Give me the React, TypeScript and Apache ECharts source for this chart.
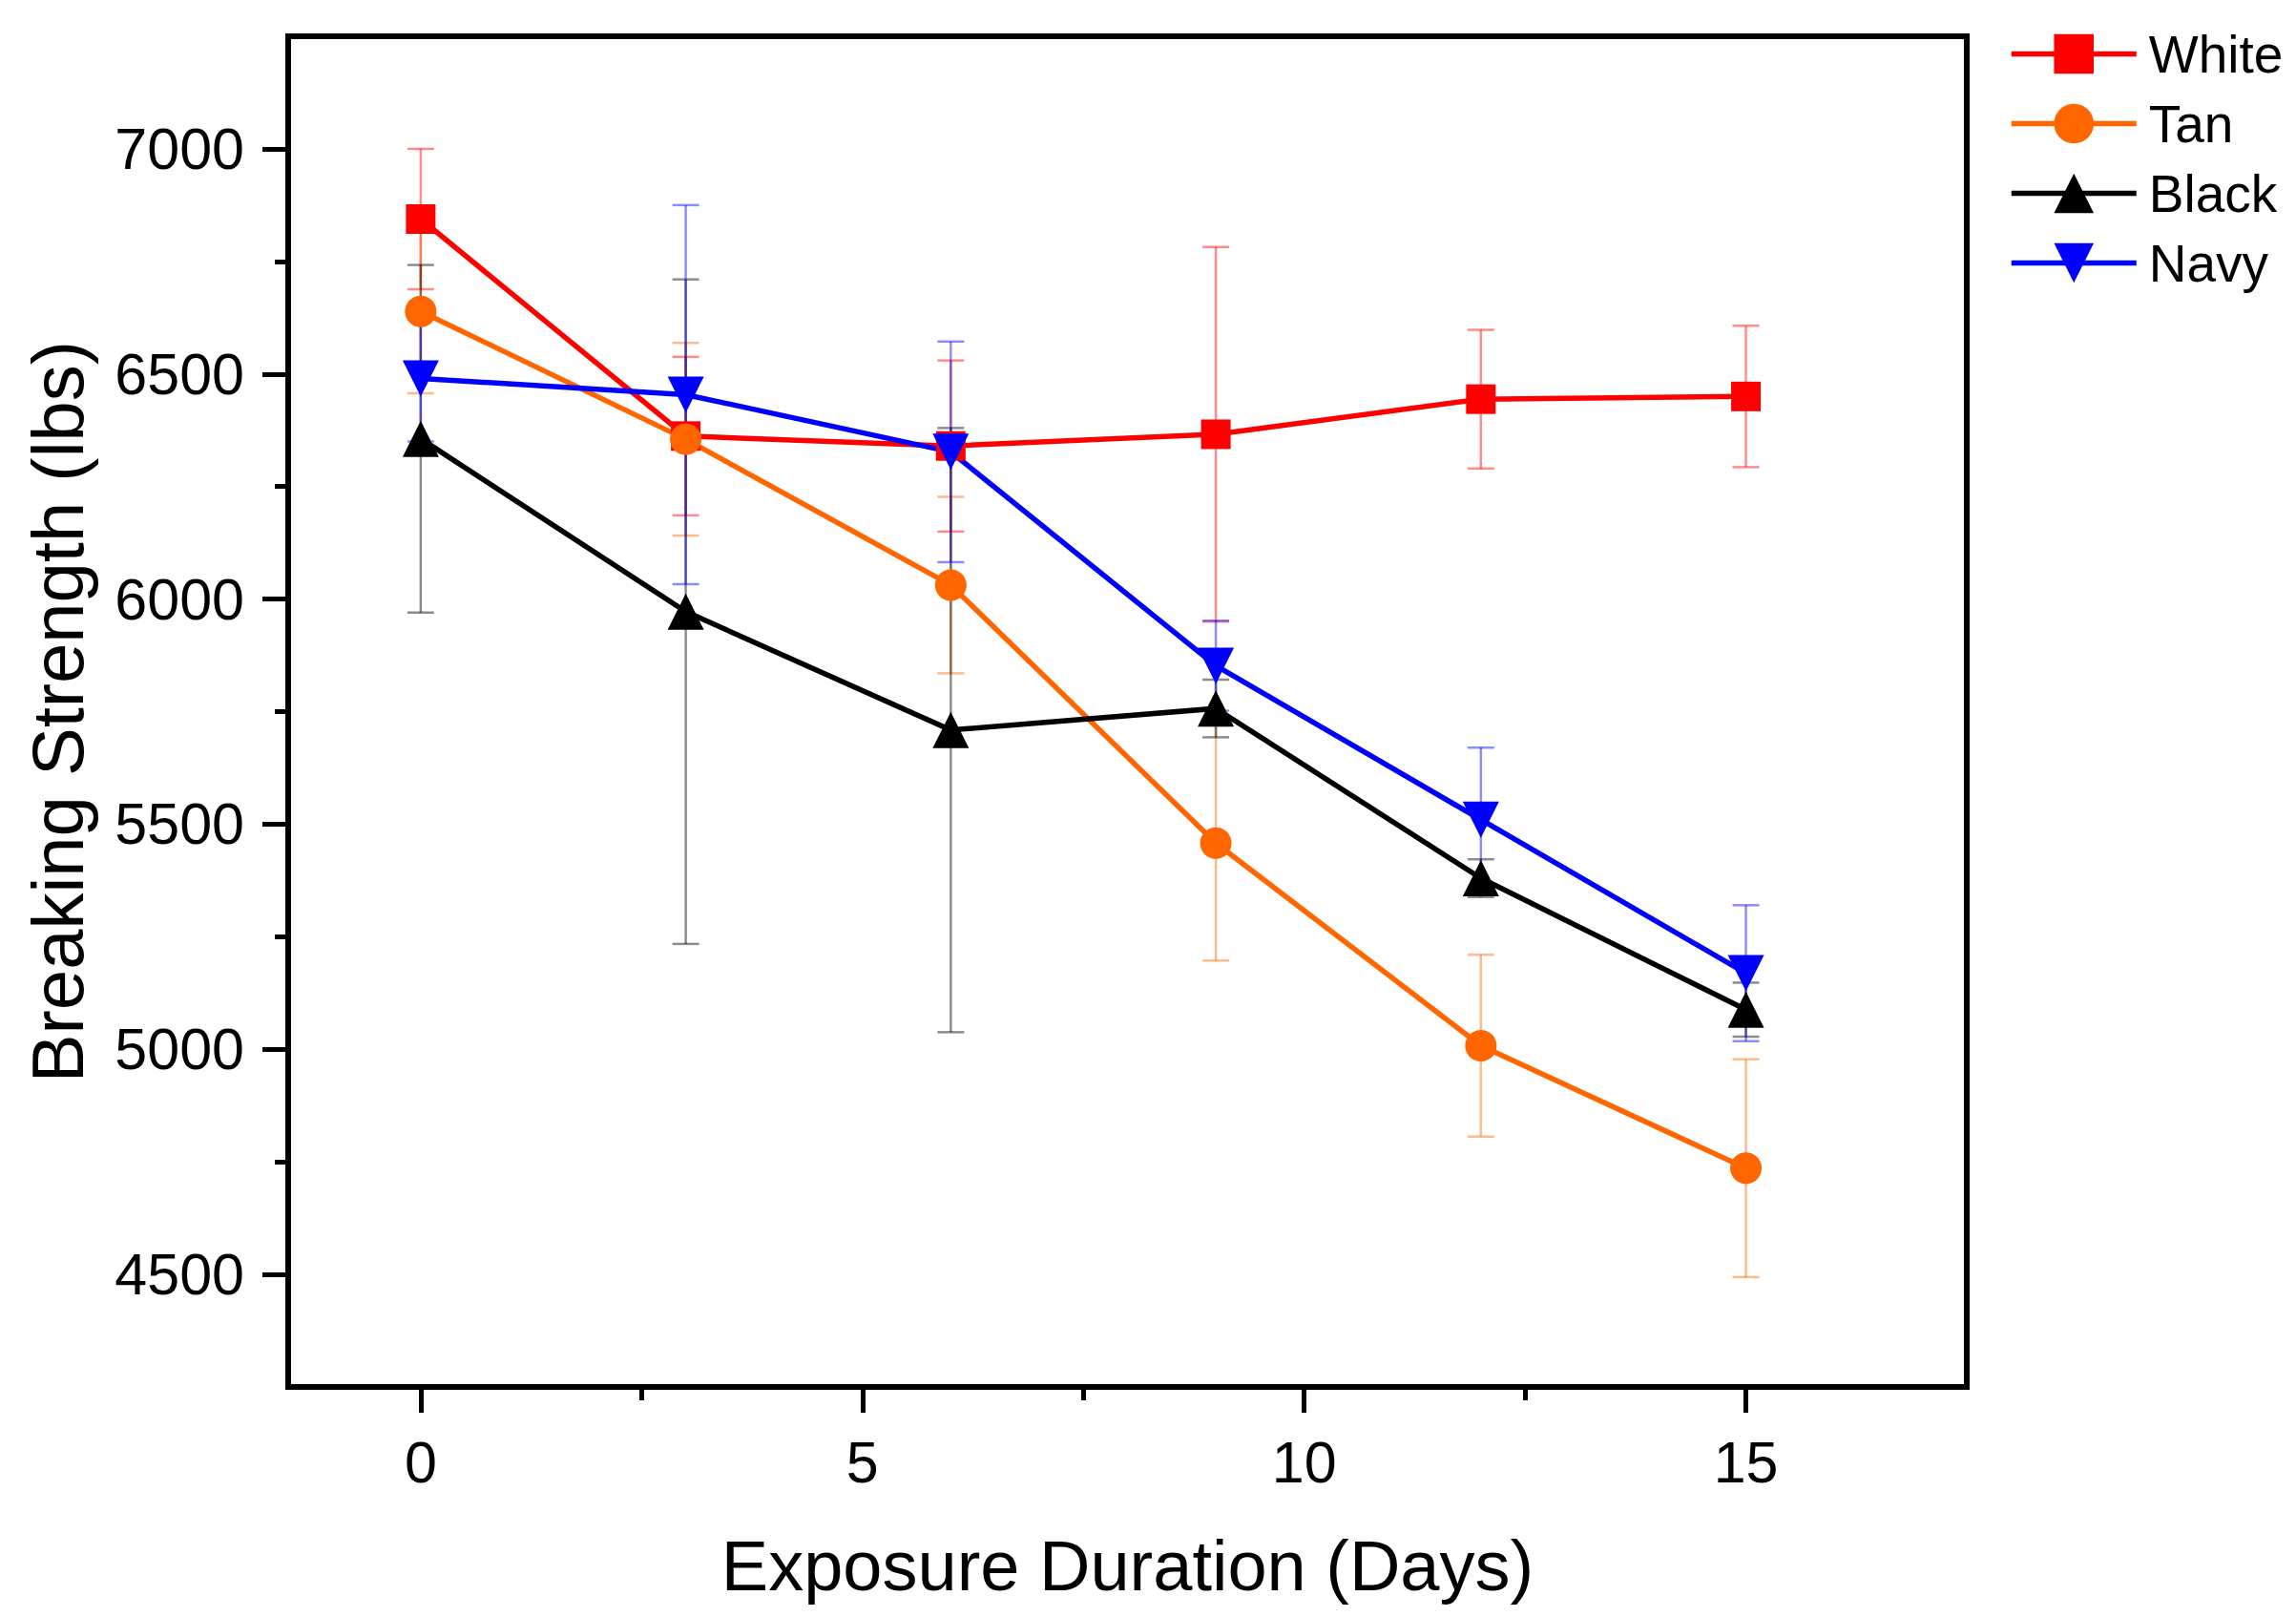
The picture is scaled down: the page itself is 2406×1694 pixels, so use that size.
import React, { useEffect, useRef } from 'react';
import * as echarts from 'echarts';

const days = [0, 3, 6, 9, 12, 15];

const white = [6844, 6362, 6340, 6366, 6444, 6450];
const whiteErr = [156, 176, 190, 416, 154, 157];
const tan = [6639, 6355, 6031, 5458, 5008, 4736];
const tanErr = [182, 214, 196, 261, 202, 242];
const black = [6356, 5972, 5709, 5757, 5380, 5088];
const blackErr = [386, 738, 671, 64, 42, 60];
const navy = [6490, 6454, 6327, 5852, 5510, 5169];
const navyErr = [140, 421, 245, 100, 160, 151];

const xLabels = [0, 5, 10, 15];
const xMinor = [2.5, 7.5, 12.5];
const yLabels = [4500, 5000, 5500, 6000, 6500, 7000];
const yMinor = [4750, 5250, 5750, 6250, 6750];

const FONT = 'Liberation Sans, Arial, sans-serif';

const App: React.FC = () => {
  const chartRef = useRef<HTMLDivElement>(null);

  useEffect(() => {
    const chart = echarts.init(chartRef.current!, undefined, { renderer: 'svg' });

    const groups = [
      { name: 'White', color: '#ff0000', vals: white, errs: whiteErr, symbol: 'rect', rotate: 0, size: 31 },
      { name: 'Tan', color: '#ff6600', vals: tan, errs: tanErr, symbol: 'circle', rotate: 0, size: 33 },
      { name: 'Black', color: '#000000', vals: black, errs: blackErr, symbol: 'triangle', rotate: 0, size: 38 },
      { name: 'Navy', color: '#0000ff', vals: navy, errs: navyErr, symbol: 'triangle', rotate: 180, size: 38 },
    ];

    // error bars: vertical line with caps, drawn under the lines
    const errSeries = groups.map((g) => ({
      type: 'custom',
      name: g.name + ' err',
      z: 1,
      silent: true,
      data: days.map((d, i) => [d, g.vals[i] - g.errs[i], g.vals[i] + g.errs[i]]),
      renderItem: (params: any, api: any) => {
        const lo = api.coord([api.value(0), api.value(1)]);
        const hi = api.coord([api.value(0), api.value(2)]);
        const cap = 14;
        const style = { stroke: g.color, lineWidth: 2.5, opacity: 0.45 };
        return {
          type: 'group',
          children: [
            { type: 'line', shape: { x1: lo[0], y1: lo[1], x2: hi[0], y2: hi[1] }, style },
            { type: 'line', shape: { x1: lo[0] - cap, y1: lo[1], x2: lo[0] + cap, y2: lo[1] }, style },
            { type: 'line', shape: { x1: hi[0] - cap, y1: hi[1], x2: hi[0] + cap, y2: hi[1] }, style },
          ],
        };
      },
    }));

    const lineSeries = groups.map((g) => ({
      type: 'line',
      name: g.name,
      z: 3,
      data: days.map((d, i) => [d, g.vals[i]]),
      symbol: g.symbol,
      symbolSize: g.size,
      symbolRotate: g.rotate,
      lineStyle: { color: g.color, width: 5.5 },
      itemStyle: { color: g.color, opacity: 1 },
    }));

    const axisLine = { show: true, onZero: false, lineStyle: { color: '#000', width: 6 } };
    const tickStyle = { color: '#000', width: 5 };
    const plain = (v: number) => String(v);

    chart.setOption({
      animation: false,
      backgroundColor: '#fff',
      grid: {
        left: 302,
        right: 345,
        top: 38,
        bottom: 241,
        show: true,
        borderColor: '#000',
        borderWidth: 6,
      },
      legend: {
        data: groups.map((g) => g.name),
        orient: 'vertical',
        left: 2100,
        top: 24,
        itemWidth: 131,
        itemHeight: 52,
        itemGap: 18,
        lineStyle: { width: 5.5 },
        textStyle: { fontFamily: FONT, fontSize: 55, color: '#000', lineHeight: 52, padding: [0, 0, 0, 8] },
      },
      xAxis: [
        {
          type: 'value',
          min: -1.5,
          max: 17.5,
          name: 'Exposure Duration (Days)',
          nameLocation: 'middle',
          nameGap: 150,
          nameTextStyle: { fontFamily: FONT, fontSize: 74, color: '#000' },
          axisLine,
          splitLine: { show: false },
          axisTick: { show: true, customValues: xLabels, length: 27, lineStyle: tickStyle },
          axisLabel: { customValues: xLabels, margin: 48, fontFamily: FONT, fontSize: 61, color: '#000', formatter: plain },
        },
        {
          type: 'value',
          min: -1.5,
          max: 17.5,
          position: 'bottom',
          axisLine: { show: false, onZero: false },
          splitLine: { show: false },
          axisTick: { show: true, customValues: xMinor, length: 14, lineStyle: tickStyle },
          axisLabel: { show: false },
        },
      ],
      yAxis: [
        {
          type: 'value',
          min: 4250,
          max: 7250,
          name: 'Breaking Strength (lbs)',
          nameLocation: 'middle',
          nameGap: 204,
          nameTextStyle: { fontFamily: FONT, fontSize: 76, color: '#000' },
          axisLine,
          splitLine: { show: false },
          axisTick: { show: true, customValues: yLabels, length: 27, lineStyle: tickStyle },
          axisLabel: { customValues: yLabels, margin: 46, fontFamily: FONT, fontSize: 61, color: '#000', formatter: plain },
        },
        {
          type: 'value',
          min: 4250,
          max: 7250,
          position: 'left',
          axisLine: { show: false, onZero: false },
          splitLine: { show: false },
          axisTick: { show: true, customValues: yMinor, length: 14, lineStyle: tickStyle },
          axisLabel: { show: false },
        },
      ],
      series: [...errSeries, ...lineSeries],
    });

    return () => {
      chart.dispose();
    };
  }, []);

  return (
    <div
      ref={chartRef}
      style={{ position: 'fixed', left: 0, top: 0, width: '2406px', height: '1694px', background: '#fff' }}
    />
  );
};

export default App;
